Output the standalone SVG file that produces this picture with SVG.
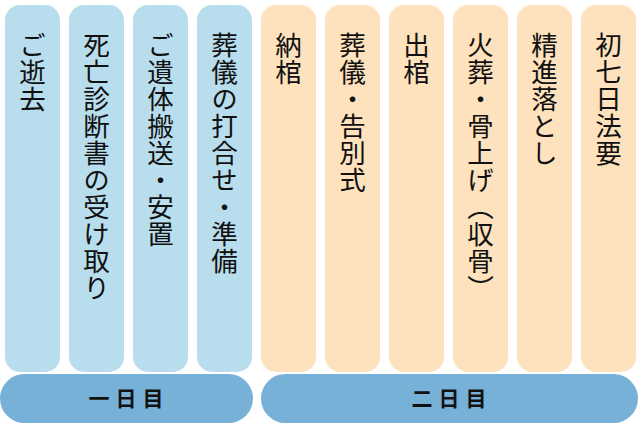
<svg xmlns="http://www.w3.org/2000/svg" width="640" height="427" viewBox="0 0 640 427">
<style>
.d1{fill:#b8dded}
.d2{fill:#fde2bd}
.bar{fill:#78b1d7}
.t{font-family:"Noto Sans CJK JP","Noto Sans",sans-serif;font-size:26.5px;fill:#111;writing-mode:vertical-rl;text-anchor:start;letter-spacing:0.5px}
.b{font-family:"Noto Sans CJK JP","Noto Sans",sans-serif;font-size:21px;font-weight:bold;fill:#111;text-anchor:middle;letter-spacing:6px}
</style>
<rect width="640" height="427" fill="#fff"/>
<g id="n1"><rect class="d1" x="5" y="5" width="55" height="367" rx="15"/><text class="t" x="32.5" y="31.5">ご逝去</text></g>
<g id="n2"><rect class="d1" x="69" y="5" width="55" height="367" rx="15"/><text class="t" x="96.5" y="31.5">死亡診断書の受け取り</text></g>
<g id="n3"><rect class="d1" x="133" y="5" width="55" height="367" rx="15"/><text class="t" x="160.5" y="31.5">ご遺体搬送・安置</text></g>
<g id="n4"><rect class="d1" x="197" y="5" width="55" height="367" rx="15"/><text class="t" x="224.5" y="31.5">葬儀の打合せ・準備</text></g>
<g id="n5"><rect class="d2" x="261" y="5" width="55" height="367" rx="15"/><text class="t" x="288.5" y="31.5">納棺</text></g>
<g id="n6"><rect class="d2" x="325" y="5" width="55" height="367" rx="15"/><text class="t" x="352.5" y="31.5">葬儀・告別式</text></g>
<g id="n7"><rect class="d2" x="389" y="5" width="55" height="367" rx="15"/><text class="t" x="416.5" y="31.5">出棺</text></g>
<g id="n8"><rect class="d2" x="453" y="5" width="55" height="367" rx="15"/><text class="t" x="480.5" y="31.5">火葬・骨上げ（収骨）</text></g>
<g id="n9"><rect class="d2" x="517" y="5" width="55" height="367" rx="15"/><text class="t" x="544.5" y="31.5">精進落とし</text></g>
<g id="n10"><rect class="d2" x="581" y="5" width="55" height="367" rx="15"/><text class="t" x="608.5" y="31.5">初七日法要</text></g>
<g id="day1"><rect class="bar" x="0" y="374" width="253" height="49" rx="24.5"/><text class="b" x="129" y="406">一日目</text></g>
<g id="day2"><rect class="bar" x="261" y="374" width="377" height="49" rx="24.5"/><text class="b" x="452" y="406">二日目</text></g>
<g id="connectors"></g>
</svg>
